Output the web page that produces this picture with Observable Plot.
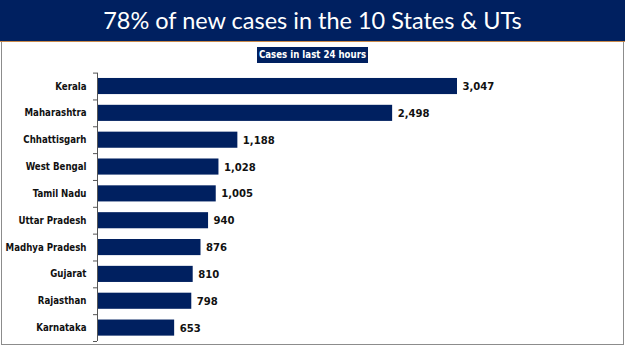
<!DOCTYPE html>
<html>
<head>
<meta charset="utf-8">
<script src="https://cdn.jsdelivr.net/npm/d3@7"></script>
<script src="https://cdn.jsdelivr.net/npm/@observablehq/plot@0.6"></script>
<style>
  html, body { margin: 0; padding: 0; background: #fff; }
  #wrap { position: relative; width: 625px; height: 351px; overflow: hidden; }
  #title { position: absolute; left: 0; top: 0; width: 625px; height: 41px; background: #002060;
    color: #fff; font-family: Lato, "Open Sans", sans-serif; font-size: 23.5px; line-height: 41px;
    text-align: center; border-bottom: 1px solid #c98a4b; white-space: nowrap; }
  #panel { position: absolute; left: 1px; top: 42px; width: 621px; height: 302px;
    border-left: 1px solid #8c8c8c; border-right: 1px solid #8c8c8c; border-bottom: 1px solid #8c8c8c; }
  #sub { position: absolute; left: 257px; top: 47px; width: 111px; height: 16px; background: #002060;
    color: #fff; font-family: "Liberation Sans Narrow", "DejaVu Sans Condensed", "Arial Narrow", sans-serif;
    font-weight: bold; font-size: 9.6px; line-height: 16px; text-align: center; white-space: nowrap; }
  #chart { position: absolute; left: 0; top: 0; }
</style>
</head>
<body>
<div id="wrap">
  <div id="panel"></div>
  <div id="chart"></div>
  <div id="title">78% of new cases in the 10 States &amp; UTs</div>
  <div id="sub">Cases in last 24 hours</div>
</div>
<script>
const states = ["Kerala", "Maharashtra", "Chhattisgarh", "West Bengal", "Tamil Nadu",
  "Uttar Pradesh", "Madhya Pradesh", "Gujarat", "Rajasthan", "Karnataka"];
const cases = [3047, 2498, 1188, 1028, 1005, 940, 876, 810, 798, 653];

const data = states.map((s, i) => ({state: s, cases: cases[i]}));
const H = 351, mTop = 72.6, mBot = 10;
const half = (H - mTop - mBot) / states.length / 2;
const font = '"Liberation Sans Narrow", "DejaVu Sans Condensed", "Arial Narrow", sans-serif';

const chart = Plot.plot({
  width: 625,
  height: H,
  marginLeft: 97,
  marginRight: 168,
  marginTop: mTop,
  marginBottom: mBot,
  style: {background: "transparent", fontFamily: font},
  x: {domain: [0, 3047], axis: null},
  y: {domain: states, paddingInner: 0.4, paddingOuter: 0.2, round: false, label: null},
  marks: [
    Plot.barX(data, {x: "cases", y: "state", fill: "#002060"}),
    Plot.ruleX([0], {stroke: "#555", strokeWidth: 1}),
    Plot.axisY({tickSize: 4, tickFormat: null, dy: -half, stroke: "#555"}),
    Plot.axisY({ticks: [states[states.length - 1]], tickSize: 4, tickFormat: null, dy: half, stroke: "#555"}),
    Plot.axisY({tickSize: 0, tickPadding: 11, fontSize: 9.6, fontWeight: "bold", fill: "#111"}),
    Plot.text(data, {x: "cases", y: "state", text: d => d3.format(",")(d.cases), dx: 5,
      textAnchor: "start", fontSize: 11.2, fontWeight: "bold", fill: "#111"})
  ]
});
document.getElementById("chart").appendChild(chart);
</script>
</body>
</html>
